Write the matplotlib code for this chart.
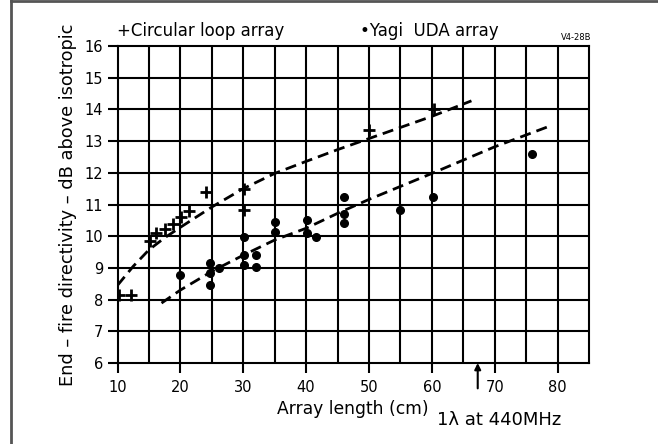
import matplotlib
matplotlib.use('Agg')
import matplotlib.pyplot as plt
from matplotlib.lines import Line2D

# Circular loop array measurements (cm, dB)
loop_x = [10.2, 12.2, 15.1, 16.2, 17.5, 18.8, 20.1, 21.4, 24.1, 30.2, 30.2, 50.0, 60.3]
loop_y = [8.15, 8.15, 9.86, 10.09, 10.22, 10.39, 10.6, 10.8, 11.38, 11.5, 10.83, 13.35, 14.0]

# Yagi UDA array measurements
yagi_x = [20.0, 24.7, 24.7, 24.7, 26.1, 30.2, 30.2, 30.2, 32.0, 32.0, 35.1, 35.1,
          40.1, 40.1, 41.6, 46.1, 46.1, 46.1, 55.0, 60.2, 75.9]
yagi_y = [8.78, 9.17, 8.85, 8.47, 8.99, 9.99, 9.41, 9.1, 9.41, 9.02, 10.46, 10.12,
          10.52, 10.11, 9.99, 11.23, 10.7, 10.41, 10.83, 11.25, 12.59]

# hand-drawn trend curves
loop_fit_x = [10, 12.5, 15, 17.5, 20, 25, 30, 35, 40, 45, 50, 55, 60, 66.3]
loop_fit_y = [8.45, 9.05, 9.57, 9.95, 10.28, 10.92, 11.5, 11.98, 12.36, 12.73, 13.08, 13.43, 13.78, 14.27]
yagi_fit_x = [17, 20, 25, 30, 35, 40, 45, 50, 60, 70, 78.7]
yagi_fit_y = [7.89, 8.3, 8.89, 9.4, 9.88, 10.25, 10.72, 11.16, 11.98, 12.82, 13.47]

x_ticks = [10, 20, 30, 40, 50, 60, 70, 80]
y_ticks = [6, 7, 8, 9, 10, 11, 12, 13, 14, 15, 16]

fig = plt.figure(figsize=(6.58, 4.44), dpi=100)
ax = fig.add_axes([117.5 / 658, 81 / 444, 471.5 / 658, 317 / 444])

ax.set_xlim(10, 85)
ax.set_ylim(6, 16)

# grid every 5 cm / 1 dB
for gx in range(15, 85, 5):
    ax.axvline(gx, color='black', lw=1.5, zorder=1)
for gy in range(7, 16):
    ax.axhline(gy, color='black', lw=1.5, zorder=1)
for s in ax.spines.values():
    s.set_linewidth(1.5)

ax.plot(loop_fit_x, loop_fit_y, color='black', lw=2, dashes=(4, 2.2), zorder=3)
ax.plot(yagi_fit_x, yagi_fit_y, color='black', lw=2, dashes=(4, 2.2), zorder=3)

ax.plot(loop_x, loop_y, linestyle='none', marker='+', ms=8, mew=2, color='black', zorder=4)
ax.plot(yagi_x, yagi_y, linestyle='none', marker='o', ms=5.5, color='black', zorder=4)

ax.set_xticks(x_ticks)
ax.set_yticks(y_ticks)
ax.tick_params(axis='both', direction='out', length=7, width=1.5, labelsize=10.5)
ax.tick_params(axis='x', pad=5)

ax.set_xlabel('Array length (cm)', fontsize=12.3, labelpad=4)
ax.set_ylabel('End – fire directivity – dB above isotropic', fontsize=12.8, labelpad=5)

fig.text(117 / 658, 1 - 31 / 444, '+Circular loop array', fontsize=12, va='center', ha='left')
fig.text(360 / 658, 1 - 31 / 444, '•Yagi  UDA array', fontsize=12, va='center', ha='left')
fig.text(591 / 658, 1 - 38 / 444, 'V4-28B', fontsize=6, va='center', ha='right')

# marker for one wavelength at 440 MHz
ax.annotate('', xy=(67.3, 6), xytext=(67.3, 5.2),
            arrowprops=dict(arrowstyle='-|>', color='black', lw=1.5, mutation_scale=9,
                            shrinkA=0, shrinkB=0),
            annotation_clip=False)
fig.text(499 / 658, 1 - 420 / 444, '1λ at 440MHz', fontsize=13, va='center', ha='center')

# page frame
fig.add_artist(Line2D([10.5 / 658, 10.5 / 658], [0, 1], color='#555555', lw=2))
fig.add_artist(Line2D([10.5 / 658, 1], [1 - 1 / 444, 1 - 1 / 444], color='#555555', lw=2))

fig.savefig('out.png', dpi=100)
plt.close(fig)
